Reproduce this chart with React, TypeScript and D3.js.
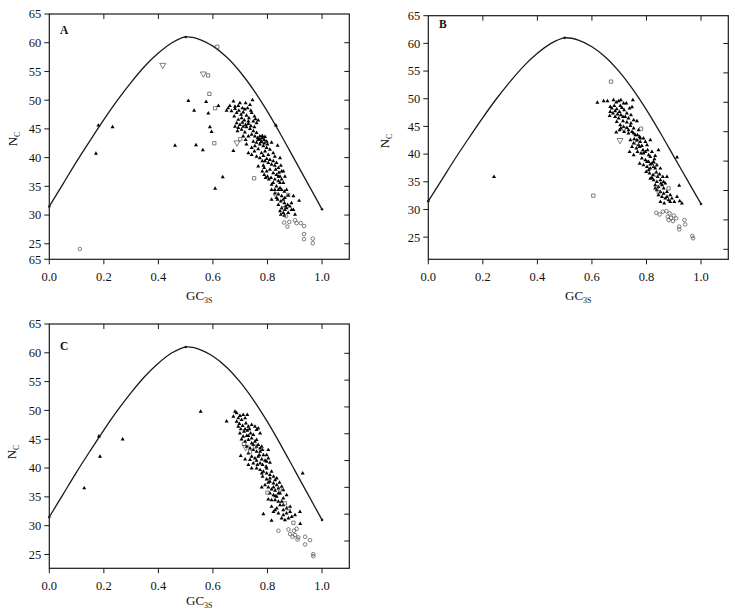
import React from "react";
import * as d3 from "d3";

// ---------- DATA ----------
const xTicks = [0, 0.2, 0.4, 0.6, 0.8, 1.0];
const yTicks = [25, 30, 35, 40, 45, 50, 55, 60, 65];
const rightTickValues = [25, 30, 35, 40, 45, 50, 55, 60];

// expected-Nc curve
const curveS = [0, 0.05, 0.1, 0.15, 0.2, 0.25, 0.3, 0.35, 0.4, 0.45, 0.5, 0.55, 0.6, 0.65, 0.7, 0.75, 0.8, 0.85, 0.9, 0.95, 1.0];
const curveV = [31.5, 35.4, 39.3, 43.0, 46.6, 50.0, 53.1, 55.9, 58.2, 60.0, 61.0, 60.6, 59.4, 57.5, 54.9, 51.7, 48.0, 43.9, 39.6, 35.3, 31.0];
const curveMarks = [0, 0.5, 1.0];

type P = [number, number];

// Panel A
const aTriangles: P[] = [
  [0.18, 45.6], [0.171, 40.7], [0.232, 45.3], [0.461, 42.1], [0.51, 49.9], [0.531, 48.2], [0.538, 42.2], [0.563, 41.3],
  [0.575, 49.7], [0.583, 47.7], [0.589, 45.3], [0.595, 44.5], [0.62, 49.0], [0.636, 36.6], [0.608, 34.6], [0.675, 41.2],
  [0.745, 50.0], [0.831, 45.6], [0.837, 42.1], [0.846, 39.9], [0.815, 32.7], [0.916, 32.5], [0.895, 30.9],
  [0.675, 49.8], [0.681, 48.9], [0.693, 49.0], [0.699, 49.5], [0.708, 48.6], [0.717, 48.4], [0.727, 48.6], [0.736, 49.2],
  [0.668, 48.1], [0.687, 47.8], [0.703, 47.5], [0.711, 47.9], [0.723, 47.3], [0.732, 46.9], [0.742, 47.8], [0.752, 47.2],
  [0.678, 47.2], [0.693, 46.6], [0.715, 46.5], [0.730, 46.3], [0.748, 46.3], [0.760, 46.0], [0.656, 48.6], [0.650, 48.2],
  [0.662, 49.0], [0.720, 49.5], [0.705, 46.9], [0.695, 48.2], [0.681, 48.5], [0.739, 48.2], [0.756, 46.7], [0.766, 46.5],
  [0.699, 45.7], [0.711, 45.4], [0.723, 45.3], [0.736, 45.0], [0.748, 44.6], [0.760, 44.3], [0.772, 43.7], [0.781, 43.4],
  [0.788, 43.1], [0.766, 43.1], [0.778, 42.8], [0.754, 43.7], [0.742, 44.0], [0.717, 44.4], [0.705, 44.9], [0.693, 45.2],
  [0.730, 43.7], [0.748, 42.8], [0.760, 42.6], [0.772, 42.3], [0.785, 42.0], [0.797, 41.7], [0.809, 41.4], [0.791, 41.1],
  [0.778, 40.8], [0.766, 41.5], [0.754, 42.0], [0.815, 42.6], [0.803, 40.5], [0.821, 40.8],
  [0.827, 40.2], [0.742, 40.5], [0.760, 40.2], [0.730, 40.8], [0.785, 40.3], [0.797, 39.8],
  [0.791, 39.4], [0.803, 39.1], [0.815, 38.8], [0.827, 38.6], [0.840, 38.2], [0.809, 37.9], [0.797, 37.6], [0.788, 38.2],
  [0.821, 37.3], [0.833, 37.0], [0.846, 36.7], [0.852, 37.6], [0.800, 36.7], [0.813, 36.5], [0.827, 36.2], [0.840, 35.9],
  [0.852, 36.2], [0.858, 35.6], [0.821, 35.6], [0.833, 35.0], [0.846, 34.7], [0.827, 34.4], [0.864, 36.7], [0.858, 37.6],
  [0.870, 34.4], [0.766, 38.5],
  [0.827, 33.8], [0.840, 33.6], [0.852, 33.3], [0.864, 33.0], [0.876, 33.4], [0.837, 32.7], [0.849, 32.4], [0.862, 32.1],
  [0.874, 31.8], [0.840, 31.8], [0.852, 31.2], [0.864, 30.9], [0.846, 30.7], [0.858, 30.4], [0.870, 31.2], [0.882, 31.5],
  [0.888, 30.9], [0.901, 30.1], [0.876, 30.4],
  [0.772, 43.2], [0.781, 43.8], [0.791, 43.6], [0.797, 42.8], [0.764, 43.4], [0.776, 42.7], [0.788, 42.5], [0.800, 42.3],
  [0.720, 45.7], [0.730, 45.9], [0.739, 45.5], [0.752, 45.3], [0.708, 46.1], [0.687, 46.0], [0.681, 45.4], [0.690, 44.6],
  [0.711, 43.7], [0.720, 43.1], [0.723, 42.3], [0.742, 41.7], [0.752, 41.1], [0.772, 39.9], [0.781, 39.4], [0.785, 38.6],
  [0.781, 37.6], [0.788, 37.0], [0.793, 36.5], [0.805, 36.2], [0.815, 35.3], [0.840, 36.7], [0.846, 35.6], [0.852, 34.4],
  [0.862, 34.1], [0.815, 34.4], [0.840, 34.4], [0.833, 33.0], [0.858, 32.7], [0.866, 31.5], [0.849, 30.1], [0.862, 29.9],
  [0.888, 32.1], [0.895, 33.3], [0.809, 39.6], [0.821, 39.4], [0.833, 39.1], [0.830, 37.9], [0.842, 37.4], [0.849, 38.6],
];
const aSquares: P[] = [
  [0.616, 59.3], [0.582, 54.3], [0.587, 51.1], [0.608, 48.6], [0.605, 42.5], [0.751, 36.4], [0.70, 43.2], [0.830, 33.6],
  [0.876, 33.5], [0.858, 31.2],
];
const aDownTriangles: P[] = [[0.416, 56.1], [0.565, 54.6], [0.688, 42.6]];
const aCircles: P[] = [
  [0.112, 24.1], [0.868, 29.8], [0.861, 28.7], [0.873, 28.0], [0.880, 28.8], [0.901, 29.1], [0.907, 28.6], [0.922, 28.6],
  [0.934, 28.1], [0.934, 26.7], [0.966, 25.9], [0.934, 25.8], [0.966, 25.1],
];

// Panel B
const bTriangles: P[] = [
  [0.241, 35.9], [0.62, 49.3], [0.912, 39.4], [0.92, 34.3],
  [0.643, 49.58], [0.657, 49.58], [0.679, 49.76], [0.689, 49.34], [0.698, 49.58], [0.706, 49.76], [0.716, 49.16],
  [0.682, 48.74], [0.673, 48.25], [0.667, 47.65], [0.677, 47.35], [0.691, 48.13], [0.701, 47.65], [0.710, 48.37],
  [0.718, 47.95], [0.728, 47.35], [0.738, 48.25], [0.747, 48.5], [0.750, 49.76], [0.685, 46.75], [0.698, 46.45],
  [0.706, 47.05], [0.722, 46.75], [0.734, 46.45], [0.743, 47.05], [0.753, 46.14], [0.765, 45.96], [0.714, 45.96],
  [0.691, 45.84], [0.665, 46.93],
  [0.704, 45.24], [0.716, 44.94], [0.728, 44.76], [0.741, 45.12], [0.753, 44.64], [0.771, 44.34], [0.718, 44.04],
  [0.734, 43.74], [0.747, 44.04], [0.759, 43.43], [0.775, 43.13], [0.689, 43.92], [0.701, 44.34], [0.765, 42.53],
  [0.777, 42.23], [0.789, 42.83], [0.753, 41.93], [0.741, 42.53], [0.747, 41.33], [0.763, 41.03], [0.775, 41.33],
  [0.787, 40.72], [0.802, 41.63], [0.814, 42.53], [0.796, 40.42], [0.780, 40.12], [0.767, 40.42], [0.844, 40.72],
  [0.808, 39.82], [0.820, 40.42], [0.832, 39.70], [0.738, 40.42], [0.753, 39.82],
  [0.783, 39.22], [0.796, 38.92], [0.808, 38.61], [0.820, 38.31], [0.789, 38.01], [0.802, 37.71], [0.814, 37.41],
  [0.826, 37.71], [0.838, 38.01], [0.851, 37.41], [0.799, 36.81], [0.811, 36.51], [0.824, 36.20], [0.836, 36.69],
  [0.848, 36.33], [0.860, 35.90], [0.814, 35.60], [0.826, 35.30], [0.838, 35.00], [0.851, 35.30], [0.863, 35.00],
  [0.832, 34.40], [0.844, 34.10], [0.857, 34.40], [0.869, 34.70], [0.826, 38.61], [0.775, 38.31], [0.875, 35.90],
  [0.838, 33.49], [0.851, 33.19], [0.863, 32.89], [0.875, 33.19], [0.887, 32.59], [0.857, 32.29], [0.869, 31.99],
  [0.881, 31.69], [0.851, 31.39], [0.865, 31.09], [0.893, 31.99], [0.902, 31.39], [0.922, 31.51], [0.930, 31.09],
  [0.912, 32.29],
  [0.667, 48.55], [0.685, 47.77], [0.704, 48.74], [0.726, 49.16], [0.694, 47.17], [0.714, 46.75], [0.728, 45.72],
  [0.743, 45.54], [0.706, 44.64], [0.734, 44.34], [0.753, 43.74], [0.767, 43.43], [0.777, 42.83], [0.796, 42.23],
  [0.755, 42.71], [0.771, 41.63], [0.783, 41.51], [0.789, 40.12], [0.804, 40.72], [0.814, 39.52], [0.802, 38.61],
  [0.829, 39.10], [0.814, 38.13], [0.832, 37.41], [0.808, 37.11], [0.841, 35.90], [0.820, 35.72], [0.853, 34.70],
  [0.832, 33.80], [0.863, 33.80], [0.844, 32.59], [0.875, 32.29], [0.887, 31.39],
];
const bSquares: P[] = [
  [0.67, 53.1], [0.605, 32.5], [0.716, 44.6], [0.780, 44.6], [0.765, 42.0], [0.832, 38.0], [0.836, 36.3], [0.838, 34.0],
  [0.881, 33.8], [0.845, 33.1],
];
const bDownTriangles: P[] = [[0.703, 42.5]];
const bCircles: P[] = [
  [0.836, 29.4], [0.848, 29.1], [0.860, 29.6], [0.873, 29.7], [0.885, 29.3], [0.878, 28.7], [0.890, 28.5], [0.881, 28.1],
  [0.900, 28.9], [0.909, 28.4], [0.897, 27.9], [0.939, 28.1], [0.942, 27.3], [0.920, 26.9], [0.920, 26.4], [0.968, 25.2],
  [0.971, 24.8],
];

// Panel C
const cTriangles: P[] = [
  [0.182, 45.5], [0.186, 42.0], [0.269, 45.0], [0.128, 36.5], [0.555, 49.8], [0.929, 39.1], [0.785, 32.0], [0.815, 30.9],
  [0.65, 48.1], [0.92, 30.3],
  [0.681, 49.81], [0.687, 49.52], [0.675, 48.94], [0.693, 48.65], [0.699, 49.06], [0.705, 48.36], [0.711, 49.23],
  [0.718, 48.65], [0.726, 49.23], [0.687, 48.07], [0.697, 47.67], [0.709, 47.32], [0.721, 47.78], [0.730, 47.20],
  [0.742, 47.49], [0.754, 47.20], [0.760, 46.62], [0.702, 46.74], [0.714, 46.33], [0.726, 46.51], [0.738, 46.04],
  [0.748, 45.75], [0.766, 46.91], [0.724, 45.58], [0.711, 45.46], [0.773, 46.04],
  [0.705, 45.00], [0.718, 44.59], [0.730, 44.88], [0.742, 44.30], [0.754, 44.59], [0.766, 44.01], [0.773, 43.43],
  [0.724, 43.72], [0.736, 43.43], [0.748, 43.14], [0.760, 42.85], [0.770, 42.27], [0.782, 43.14], [0.803, 43.14],
  [0.702, 42.10], [0.718, 41.52], [0.736, 41.41], [0.754, 41.70], [0.766, 41.99], [0.779, 41.52], [0.791, 41.29],
  [0.803, 41.70], [0.748, 40.83], [0.763, 40.54], [0.782, 40.54], [0.795, 40.25], [0.809, 40.94], [0.730, 40.54],
  [0.742, 39.96],
  [0.773, 39.67], [0.785, 39.38], [0.797, 39.09], [0.809, 38.80], [0.822, 38.51], [0.834, 38.22], [0.782, 38.51],
  [0.797, 38.04], [0.809, 37.64], [0.822, 37.35], [0.834, 37.06], [0.844, 37.46], [0.791, 37.06], [0.803, 36.65],
  [0.815, 36.30], [0.828, 36.07], [0.840, 36.48], [0.852, 36.77], [0.809, 35.61], [0.822, 35.32], [0.834, 35.03],
  [0.846, 35.61], [0.858, 34.74], [0.779, 36.65], [0.870, 35.32], [0.803, 34.57], [0.828, 34.45], [0.852, 34.16],
  [0.815, 33.29], [0.834, 33.00], [0.846, 33.58], [0.858, 32.71], [0.870, 33.00], [0.883, 33.29], [0.840, 32.13],
  [0.858, 31.84], [0.822, 32.42], [0.877, 31.26], [0.889, 31.55], [0.901, 31.84], [0.864, 30.97], [0.919, 32.42],
  [0.693, 47.20], [0.718, 46.74], [0.734, 46.74], [0.699, 46.04], [0.730, 45.58], [0.742, 45.17], [0.760, 44.88],
  [0.748, 44.01], [0.760, 43.72], [0.779, 43.72], [0.773, 42.85], [0.785, 42.27], [0.797, 42.27], [0.730, 42.56],
  [0.742, 41.99], [0.760, 41.29], [0.773, 40.83], [0.797, 41.12], [0.760, 39.96], [0.779, 39.09], [0.797, 39.96],
  [0.815, 39.38], [0.809, 38.22], [0.828, 37.93], [0.803, 37.46], [0.822, 36.65], [0.840, 35.61], [0.858, 36.19],
  [0.828, 35.14], [0.815, 34.45], [0.840, 34.16], [0.858, 33.58], [0.828, 32.71], [0.870, 32.13], [0.852, 31.26],
  [0.883, 32.42],
];
const cSquares: P[] = [
  [0.714, 44.19], [0.736, 42.85], [0.754, 43.72], [0.864, 33.87], [0.877, 33.0], [0.800, 35.73], [0.846, 36.30],
  [0.895, 30.5],
];
const cDownTriangles: P[] = [[0.72, 43.6]];
const cCircles: P[] = [
  [0.840, 29.12], [0.877, 29.35], [0.883, 28.54], [0.897, 29.12], [0.907, 29.46], [0.901, 28.36], [0.892, 28.07],
  [0.913, 27.96], [0.910, 27.61], [0.938, 28.07], [0.956, 27.49], [0.938, 26.74], [0.968, 25.06], [0.968, 24.71],
];

// ---------- LAYOUT ----------
const FONT = "Liberation Serif, Times New Roman, Times, serif";
const PLOT_W = 300;

type Spec = {
  letter: string;
  tri: P[]; sq: P[]; dt: P[]; ci: P[];
  left: number; top: number; bottom: number; yMin: number;
  rightRange: [number, number] | null;
  letterPos: [number, number];
  yTitlePos: [number, number];
  xTitleY: number;
  extraBottomLabel?: string;
};

const panels: Spec[] = [
  {
    letter: "A", tri: aTriangles, sq: aSquares, dt: aDownTriangles, ci: aCircles,
    left: 49.3, top: 14, bottom: 259.3, yMin: 22.3, rightRange: null,
    letterPos: [60, 33.5], yTitlePos: [17, 139], xTitleY: 299.5, extraBottomLabel: "65",
  },
  {
    letter: "B", tri: bTriangles, sq: bSquares, dt: bDownTriangles, ci: bCircles,
    left: 428.3, top: 15.7, bottom: 259.3, yMin: 21, rightRange: [249.3, 43.5],
    letterPos: [439, 27.5], yTitlePos: [389, 141], xTitleY: 299.5,
  },
  {
    letter: "C", tri: cTriangles, sq: cSquares, dt: cDownTriangles, ci: cCircles,
    left: 49.3, top: 324, bottom: 568.3, yMin: 22.6, rightRange: [541, 353.3],
    letterPos: [60, 349.5], yTitlePos: [16, 452], xTitleY: 605,
  },
];

const triPath = d3.symbol().type(d3.symbolTriangle).size(7)() as string;
const sqPath = d3.symbol().type(d3.symbolSquare).size(11)() as string;
const dtPath = d3.symbol().type(d3.symbolTriangle).size(16)() as string;

function Panel({ s }: { s: Spec }) {
  const x = d3.scaleLinear().domain([0, 1.1]).range([s.left, s.left + PLOT_W]);
  const y = d3.scaleLinear().domain([s.yMin, 65]).range([s.bottom, s.top]);
  const right = s.left + PLOT_W;
  const rScale = s.rightRange
    ? d3.scaleLinear().domain([25, 60]).range(s.rightRange)
    : y;
  const rightVals = s.rightRange ? rightTickValues : yTicks.filter((v) => v < 65);
  const line = d3
    .line<number>()
    .x((_, i) => x(curveS[i]))
    .y((d) => y(d))
    .curve(d3.curveCatmullRom.alpha(0.5));
  const ink = "#1a1a1a";
  const open = "#4a4a4a";
  return (
    <g>
      <rect x={s.left} y={s.top} width={PLOT_W} height={s.bottom - s.top} fill="none" stroke={ink} strokeWidth={1.2} />
      {yTicks.map((v) => (
        <g key={"yl" + v}>
          <line x1={s.left - 5} x2={s.left} y1={y(v)} y2={y(v)} stroke={ink} strokeWidth={1} />
          <text x={s.left - 8} y={y(v)} dy="0.35em" textAnchor="end" style={{ fontFamily: FONT }} fontSize={12.5} fill="#111">
            {v}
          </text>
        </g>
      ))}
      {s.extraBottomLabel && (
        <g>
          <line x1={s.left - 5} x2={s.left} y1={s.bottom} y2={s.bottom} stroke={ink} strokeWidth={1} />
          <text x={s.left - 8} y={s.bottom} dy="0.35em" textAnchor="end" style={{ fontFamily: FONT }} fontSize={12.5} fill="#111">
            {s.extraBottomLabel}
          </text>
        </g>
      )}
      {rightVals.map((v) => (
        <line key={"yr" + v} x1={right - 5} x2={right} y1={rScale(v)} y2={rScale(v)} stroke={ink} strokeWidth={1} />
      ))}
      {xTicks.map((v) => (
        <g key={"xb" + v}>
          <line x1={x(v)} x2={x(v)} y1={s.bottom} y2={s.bottom + 5} stroke={ink} strokeWidth={1} />
          <text x={x(v)} y={s.bottom + 22} textAnchor="middle" style={{ fontFamily: FONT }} fontSize={12.5} fill="#111">
            {v.toFixed(1)}
          </text>
        </g>
      ))}
      {xTicks.filter((v) => v > 0).map((v) => (
        <line key={"xt" + v} x1={x(v)} x2={x(v)} y1={s.top} y2={s.top + 5} stroke={ink} strokeWidth={1} />
      ))}
      <path d={line(curveV) || ""} fill="none" stroke={ink} strokeWidth={1.3} />
      {curveMarks.map((m) => (
        <circle key={"cm" + m} cx={x(m)} cy={y(curveV[curveS.indexOf(m)])} r={1.3} fill={ink} />
      ))}
      {s.tri.map((p, i) => (
        <path key={"t" + i} d={triPath} transform={`translate(${x(p[0])},${y(p[1])})`} fill="#000" />
      ))}
      {s.sq.map((p, i) => (
        <path key={"s" + i} d={sqPath} transform={`translate(${x(p[0])},${y(p[1])})`} fill="none" stroke={open} strokeWidth={0.7} />
      ))}
      {s.dt.map((p, i) => (
        <path key={"d" + i} d={dtPath} transform={`translate(${x(p[0])},${y(p[1])}) rotate(180)`} fill="none" stroke={open} strokeWidth={0.7} />
      ))}
      {s.ci.map((p, i) => (
        <circle key={"c" + i} cx={x(p[0])} cy={y(p[1])} r={1.8} fill="none" stroke={open} strokeWidth={0.7} />
      ))}
      <text x={s.letterPos[0]} y={s.letterPos[1]} style={{ fontFamily: FONT }} fontSize={11.5} fontWeight="bold" fill="#111">
        {s.letter}
      </text>
      <text x={s.left + PLOT_W / 2} y={s.xTitleY} textAnchor="middle" style={{ fontFamily: FONT }} fontSize={13} fill="#111">
        GC<tspan fontSize={8} dy={3}>3S</tspan>
      </text>
      <text
        transform={`translate(${s.yTitlePos[0]},${s.yTitlePos[1]}) rotate(-90)`}
        textAnchor="middle"
        style={{ fontFamily: FONT }}
        fontSize={13}
        fill="#111"
      >
        N<tspan fontSize={8} dy={3}>C</tspan>
      </text>
    </g>
  );
}

export default function App() {
  return (
    <svg
      width={735}
      height={614}
      viewBox="0 0 735 614"
      style={{ position: "absolute", left: 0, top: 0, background: "#fff" }}
    >
      <rect x={0} y={0} width={735} height={614} fill="#fff" />
      {panels.map((p) => (
        <Panel key={p.letter} s={p} />
      ))}
    </svg>
  );
}
